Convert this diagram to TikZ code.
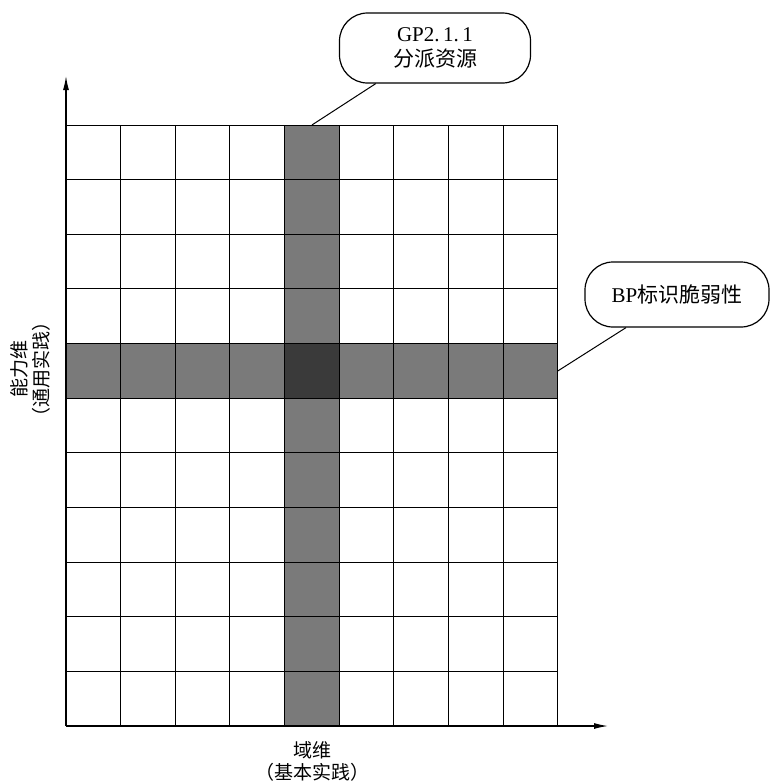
\documentclass[tikz,border=0pt]{standalone}
\usepackage{fontspec}
\setmainfont{Liberation Serif}
\newfontfamily\cjk{Noto Sans CJK SC}
\usetikzlibrary{positioning,arrows.meta}
\definecolor{bandgray}{HTML}{7A7A7A}
\definecolor{crossgray}{HTML}{3A3A3A}
\tikzset{
  cell/.style={line width=0.5pt},
  axis/.style={line width=0.6pt,-{Latex[length=7pt,width=3pt]}},
  callout/.style={draw,line width=0.6pt,rounded corners=14pt,align=center,
    font=\fontsize{10.5}{12.5}\selectfont},
  lead/.style={line width=0.5pt},
  axislabel/.style={align=center,font=\cjk\fontsize{9.5}{11}\selectfont},
}
\begin{document}
\begin{tikzpicture}[x=0.5pt,y=-0.5pt]
    \useasboundingbox (0,0) rectangle (770,783);
    % grid: 9 columns, 11 rows
    \def\cw{54.65}
    \coordinate (O) at (66,726);
    \coordinate (ytip) at (66,76);
    \coordinate (xtip) at (608,726);
    \coordinate (coltop) at (66+4.5*\cw,125);
    \coordinate (rowend) at (66+9*\cw,125+4.5*\cw);
    % shaded column and row
    \fill[bandgray] (66+4*\cw,125) rectangle (66+5*\cw,726);
    \fill[bandgray] (66,125+4*\cw) rectangle (66+9*\cw,125+5*\cw);
    \fill[crossgray] (66+4*\cw,125+4*\cw) rectangle (66+5*\cw,125+5*\cw);
    % grid lines
    \foreach \i in {0,...,9}
        \draw[cell] (66+\i*\cw,125) -- (66+\i*\cw,726);
    \foreach \j in {0,...,11}
        \draw[cell] (66,125+\j*\cw) -- (66+9*\cw,125+\j*\cw);
    % axes
    \draw[axis] (O) -- (ytip);
    \draw[axis] (O) -- (xtip);
    % callouts
    \node[callout,minimum width=95.5pt,minimum height=35pt] (gp) at (435,48)
        {GP2.\,1.\,1\\{\cjk 分派资源}};
    \node[callout,minimum width=92pt,minimum height=32.5pt] (bp) at (677,294.5)
        {BP{\cjk 标识脆弱性}};
    \draw[lead] (gp.211) -- (coltop);
    \draw[lead] (bp.213) -- (rowend);
    % axis labels
    \node[axislabel,rotate=90] (ylab) at (30,369) {能力维\\（通用实践）};
    \node[axislabel] (xlab) at (312,761) {域维\\（基本实践）};
\end{tikzpicture}
\end{document}
